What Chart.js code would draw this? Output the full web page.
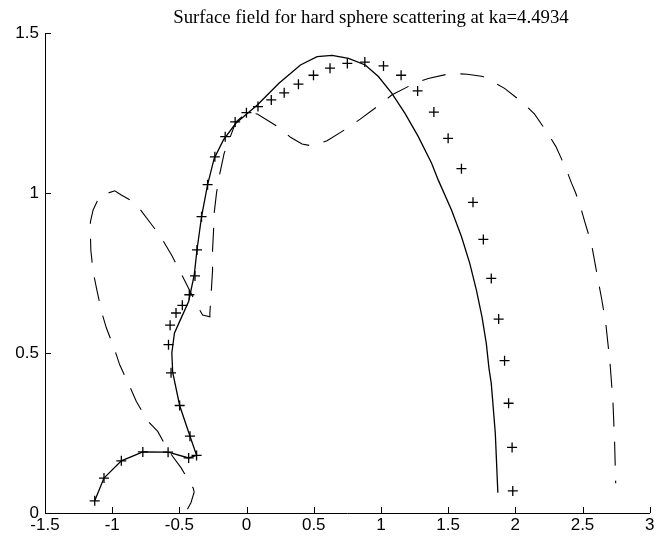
<!DOCTYPE html>
<html>
<head>
<meta charset="utf-8">
<script src="https://cdn.jsdelivr.net/npm/chart.js@4.4.1/dist/chart.umd.min.js"></script>
<style>
  html, body { margin: 0; padding: 0; background: #fff; }
</style>
</head>
<body>
<canvas id="chart" width="656" height="537"></canvas>
<script>
const chartTitle = "Surface field for hard sphere scattering at ka=4.4934";

const xTicks = [-1.5, -1, -0.5, 0, 0.5, 1, 1.5, 2, 2.5, 3];
const xTickLabels = ["-1.5", "-1", "-0.5", "0", "0.5", "1", "1.5", "2", "2.5", "3"];
const yTicks = [0, 0.5, 1, 1.5];
const yTickLabels = ["0", "0.5", "1", "1.5"];

// solid curve
const solidX = [-1.130, -1.061, -0.932, -0.772, -0.584, -0.431, -0.372, -0.421, -0.498, -0.550,
  -0.556, -0.537, -0.487, -0.431, -0.389, -0.369, -0.335, -0.290, -0.241, -0.172,
  -0.080, 0.080, 0.241, 0.401, 0.525, 0.636, 0.759, 0.883, 0.981, 1.080,
  1.179, 1.278, 1.377, 1.426, 1.525, 1.599, 1.661, 1.710, 1.752, 1.784,
  1.804, 1.821, 1.851, 1.870];
const solidY = [0.038, 0.109, 0.163, 0.191, 0.190, 0.172, 0.180, 0.240, 0.336, 0.440,
  0.500, 0.562, 0.609, 0.661, 0.745, 0.822, 0.926, 1.026, 1.108, 1.166,
  1.218, 1.275, 1.343, 1.400, 1.426, 1.430, 1.421, 1.400, 1.364, 1.312,
  1.249, 1.176, 1.093, 1.041, 0.947, 0.864, 0.780, 0.697, 0.613, 0.530,
  0.452, 0.405, 0.249, 0.063];

// "+" markers
const crossX = [-1.130, -1.061, -0.932, -0.772, -0.584, -0.431, -0.372, -0.421, -0.498, -0.562,
  -0.581, -0.569, -0.525, -0.478, -0.426, -0.384, -0.369, -0.335, -0.290, -0.236,
  -0.159, -0.085, -0.001, 0.085, 0.184, 0.280, 0.386, 0.498, 0.621, 0.750,
  0.880, 1.019, 1.150, 1.273, 1.394, 1.500, 1.599, 1.685, 1.762, 1.821,
  1.876, 1.920, 1.950, 1.976, 1.981];
const crossY = [0.038, 0.109, 0.163, 0.191, 0.190, 0.172, 0.180, 0.240, 0.336, 0.438,
  0.526, 0.587, 0.625, 0.649, 0.682, 0.741, 0.822, 0.926, 1.026, 1.113,
  1.176, 1.222, 1.251, 1.270, 1.291, 1.313, 1.340, 1.368, 1.390, 1.405,
  1.409, 1.397, 1.368, 1.319, 1.253, 1.171, 1.076, 0.971, 0.855, 0.733,
  0.606, 0.476, 0.343, 0.205, 0.069];

// dashed curve
const dashX = [-0.440, -0.414, -0.390, -0.396, -0.487, -0.587, -0.661, -0.735, -0.821, -0.870,
  -0.944, -0.981, -1.043, -1.080, -1.117, -1.142, -1.159, -1.162, -1.162, -1.142,
  -1.093, -0.981, -0.932, -0.826, -0.717, -0.643, -0.554, -0.500, -0.413, -0.364,
  -0.327, -0.273, -0.273, -0.265, -0.253, -0.253, -0.246, -0.241, -0.224, -0.204,
  -0.167, -0.080, 0.000, 0.080, 0.241, 0.327, 0.413, 0.488, 0.599, 0.747,
  0.846, 0.987, 1.080, 1.241, 1.352, 1.525, 1.643, 1.759, 1.816, 1.920,
  2.056, 2.142, 2.241, 2.302, 2.376, 2.419, 2.450, 2.483, 2.517, 2.567,
  2.616, 2.643, 2.673, 2.705, 2.727, 2.739, 2.747];
const dashY = [0.012, 0.032, 0.065, 0.077, 0.141, 0.198, 0.255, 0.287, 0.349, 0.396,
  0.463, 0.510, 0.578, 0.630, 0.703, 0.754, 0.822, 0.874, 0.910, 0.947,
  0.991, 1.007, 0.994, 0.968, 0.907, 0.866, 0.803, 0.759, 0.687, 0.645,
  0.619, 0.613, 0.626, 0.676, 0.759, 0.822, 0.879, 0.937, 0.999, 1.051,
  1.124, 1.222, 1.250, 1.247, 1.205, 1.174, 1.153, 1.147, 1.163, 1.202,
  1.231, 1.275, 1.306, 1.341, 1.358, 1.374, 1.371, 1.364, 1.351, 1.327,
  1.282, 1.247, 1.187, 1.145, 1.077, 1.030, 0.999, 0.959, 0.910, 0.840,
  0.728, 0.668, 0.593, 0.468, 0.343, 0.218, 0.093];

function toPoints(xs, ys) {
  return xs.map((x, i) => ({ x: x, y: ys[i] }));
}

// inward tick marks + title
const decorations = {
  id: "decorations",
  afterDraw(chart) {
    const c = chart.ctx;
    const xs = chart.scales.x, ys = chart.scales.y;
    const a = chart.chartArea;
    c.save();
    c.strokeStyle = "#000";
    c.lineWidth = 1;
    c.beginPath();
    xTicks.forEach(v => {
      const px = Math.round(xs.getPixelForValue(v)) + 0.5;
      c.moveTo(px, a.bottom);
      c.lineTo(px, a.bottom - 6);
    });
    yTicks.forEach(v => {
      const py = Math.round(ys.getPixelForValue(v)) + 0.5;
      c.moveTo(a.left, py);
      c.lineTo(a.left + 6, py);
    });
    c.stroke();

    c.fillStyle = "#000";
    c.font = "18.8px 'Liberation Serif', 'Times New Roman', serif";
    c.textAlign = "center";
    c.textBaseline = "alphabetic";
    c.fillText(chartTitle, 371, 23);
    c.restore();
  }
};

new Chart(document.getElementById("chart"), {
  type: "scatter",
  data: {
    datasets: [
      {
        data: toPoints(solidX, solidY),
        showLine: true,
        borderColor: "#000",
        borderWidth: 1.3,
        pointRadius: 0,
        tension: 0
      },
      {
        data: toPoints(crossX, crossY),
        showLine: false,
        pointStyle: "cross",
        pointRadius: 5,
        borderColor: "#000",
        borderWidth: 1.3
      },
      {
        data: toPoints(dashX, dashY),
        showLine: true,
        borderColor: "#000",
        borderWidth: 1.1,
        borderDash: [24, 15],
        pointRadius: 0,
        tension: 0
      }
    ]
  },
  options: {
    responsive: false,
    animation: false,
    layout: { padding: { top: 33, right: 3, left: 0, bottom: 0 } },
    plugins: {
      legend: { display: false },
      tooltip: { enabled: false },
      title: { display: false }
    },
    scales: {
      x: {
        type: "linear",
        min: -1.5,
        max: 3,
        afterBuildTicks: s => { s.ticks = xTicks.map(v => ({ value: v })); },
        afterFit: s => { s.height = 24; s.paddingLeft = 0; s.paddingRight = 0; },
        ticks: {
          color: "#000",
          padding: 2,
          maxRotation: 0,
          autoSkip: false,
          font: { family: "'Liberation Sans', Arial, sans-serif", size: 17 },
          callback: v => xTickLabels[xTicks.indexOf(v)]
        },
        grid: { drawOnChartArea: false, drawTicks: false },
        border: { display: true, color: "#000", width: 1 }
      },
      y: {
        type: "linear",
        min: 0,
        max: 1.5,
        afterBuildTicks: s => { s.ticks = yTicks.map(v => ({ value: v })); },
        afterFit: s => { s.width = 45; s.paddingTop = 0; s.paddingBottom = 0; },
        ticks: {
          color: "#000",
          padding: 6,
          autoSkip: false,
          font: { family: "'Liberation Sans', Arial, sans-serif", size: 17 },
          callback: v => yTickLabels[yTicks.indexOf(v)]
        },
        grid: { drawOnChartArea: false, drawTicks: false },
        border: { display: true, color: "#000", width: 1 }
      }
    }
  },
  plugins: [decorations]
});
</script>
</body>
</html>
